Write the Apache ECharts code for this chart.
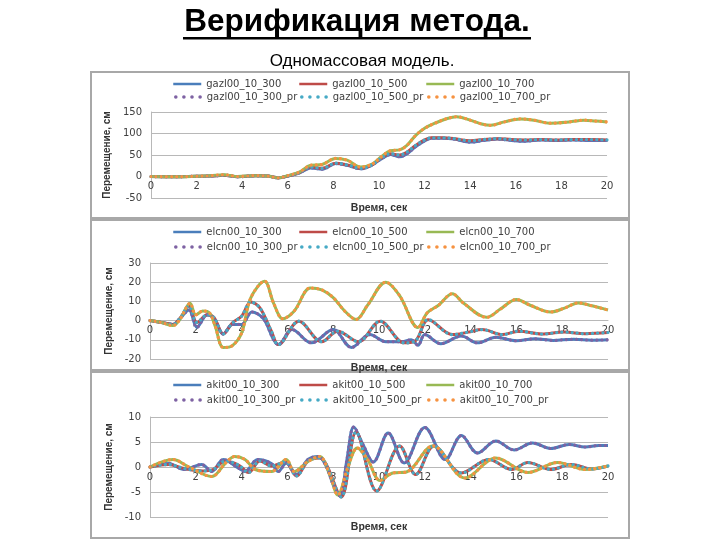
<!DOCTYPE html>
<html>
<head>
<meta charset="utf-8">
<script src="https://cdn.jsdelivr.net/npm/echarts@6/dist/echarts.min.js"></script>
<style>
  html, body { margin: 0; padding: 0; background: #fff; }
  #verifChart { width: 720px; height: 540px; }
</style>
</head>
<body>
<div id="verifChart"></div>
<script>
  var gazl300 = [[0,0],[1,-0.5],[2,0.5],[2.6,1],[3.2,3],[3.8,-0.5],[4.6,1.5],[5.1,1],[5.6,-3],[6.0,1],[6.5,8],[7.0,20],[7.5,17],[8.1,30],[8.6,26],[9.2,18],[9.7,27],[10.1,41],[10.5,51],[10.9,46],[11.2,52],[11.6,69],[12.0,83],[12.3,89],[12.8,89],[13.3,87],[14.0,80],[14.6,84],[15.2,87],[15.8,84],[16.4,82],[17.1,85],[17.8,84],[18.5,85],[19.3,84],[20,84]]
  var gazl500 = [[0,0],[1,-0.5],[2,0.5],[2.6,1],[3.2,3],[3.8,-0.5],[4.6,1.5],[5.1,1],[5.6,-3],[6.0,1],[6.5,9],[7.0,22],[7.5,19],[8.1,31],[8.6,27],[9.2,19],[9.7,27],[10.1,43],[10.5,53],[10.9,50],[11.2,56],[11.6,72],[12.0,85],[12.3,90],[12.8,90],[13.3,88],[14.0,83],[14.6,86],[15.2,88],[15.8,86],[16.4,85],[17.1,86],[17.8,85],[18.5,86],[19.3,86],[20,85]]
  var gazl700 = [[0,0],[1,-0.5],[2,0.5],[2.6,1.5],[3.2,4],[3.8,0],[4.6,2],[5.1,1],[5.6,-3],[6.0,2],[6.5,10],[7.0,26],[7.5,28],[8.1,42],[8.6,38],[9.2,22],[9.7,29],[10.1,46],[10.5,60],[10.9,62],[11.2,71],[11.6,95],[12.0,112],[12.5,125],[13.0,135],[13.4,139],[14.0,131],[14.5,122],[14.9,119],[15.5,127],[16.2,134],[16.8,131],[17.5,124],[18.2,126],[19.0,131],[19.5,129],[20,127]]

  var elcn300 = [[0,0],[0.5,-1],[1.0,-2],[1.3,1],[1.7,5.5],[2.05,-3.5],[2.5,3],[2.8,1],[3.2,-7],[3.6,-2],[4.0,-2],[4.45,4.5],[4.95,1],[5.4,-10],[5.6,-12.5],[6.2,-4.7],[7.05,-11.6],[8.0,-4.7],[8.8,-14],[9.6,-7.3],[10.3,-11],[11.0,-11],[11.4,-10],[11.7,-12.8],[12.0,-7.3],[12.7,-12],[13.6,-8],[14.3,-11.6],[15.1,-8.7],[16.0,-10.5],[16.8,-9.5],[17.6,-10.3],[18.5,-9.7],[19.3,-10.2],[20,-10]]
  var elcn500 = [[0,0],[0.5,-1],[1.0,-2],[1.3,1],[1.7,7.5],[2.05,-1],[2.5,3],[2.8,1.5],[3.2,-7],[3.6,-1.2],[4.0,2.3],[4.4,9.7],[4.8,6.6],[5.3,-5.5],[5.6,-12.5],[6.5,-0.3],[7.5,-11],[8.2,-5.5],[9.1,-11],[10.05,-0.3],[11.1,-11.6],[11.6,-10.4],[12.15,0.5],[13.2,-7.3],[13.9,-6],[14.5,-4.7],[15.4,-7.3],[16.1,-5.5],[17.1,-7],[18.1,-6],[19,-6.8],[20,-6.2]]
  var elcn700 = [[0,0],[0.5,-1],[1.0,-2.6],[1.3,0.5],[1.75,9],[2.0,3],[2.3,5],[2.6,4],[2.85,-3],[3.2,-14],[3.6,-13],[4.0,-6.5],[4.4,11.8],[5.0,20.5],[5.4,9],[5.8,1],[6.3,5],[7.0,17],[7.5,16],[8.0,12],[8.5,5],[9.0,0.6],[9.5,8],[10.3,20],[10.9,13],[11.7,-3.6],[12.1,4],[12.6,8],[13.2,14],[13.7,9],[14.7,1.7],[15.3,6],[16.0,11],[16.6,8],[17.5,4.5],[18.1,6.5],[18.7,9.2],[19.3,7.7],[20,5.5]]

  var akit300 = [[0,0],[0.8,0.7],[1.5,-0.5],[2.25,0.5],[2.7,-0.9],[3.2,1.5],[3.85,-0.2],[4.15,-0.9],[4.7,1.5],[5.3,0.7],[5.6,-0.9],[5.95,0.8],[6.4,-1.5],[6.9,1.5],[7.35,2.1],[7.7,0.1],[8.0,-3.5],[8.3,-5.8],[8.6,1.5],[8.9,8],[9.3,4.5],[9.75,1],[10.4,6.8],[11.1,0.8],[12.0,7.9],[12.9,1.5],[13.6,6.3],[14.3,2.8],[15.1,5.2],[15.9,3.4],[16.7,4.8],[17.5,3.7],[18.3,4.5],[19.0,4],[19.6,4.3],[20,4.3]]
  var akit500 = [[0,0],[0.8,0.5],[1.5,-0.3],[2.3,-0.8],[2.75,-0.5],[3.3,1.2],[3.9,0.3],[4.3,-1.1],[4.8,1.2],[5.3,0.2],[5.9,1.0],[6.4,-1.8],[6.9,1.2],[7.4,1.8],[7.7,0.5],[8.35,-6],[9.0,7],[9.9,-4.8],[10.9,4.2],[11.6,-1.5],[12.4,4.2],[13.6,-1.2],[14.8,1.5],[15.8,-0.5],[16.5,0.9],[17.5,-0.5],[18.4,0.5],[19.3,-0.4],[20,0.2]]
  var akit700 = [[0,0],[1.0,1.5],[1.7,0],[2.7,-1.9],[3.3,0.8],[3.7,2.1],[4.15,1.5],[4.6,-0.5],[5.3,-0.9],[5.95,1.5],[6.3,-0.9],[6.9,1.1],[7.4,2.1],[7.85,-1.5],[8.2,-5.6],[8.65,0.1],[9.05,3.8],[9.5,1.5],[10.05,-2.7],[10.6,-1.2],[11.2,-1],[12.35,4.2],[13.75,-2.2],[15.1,1.8],[16.5,-1.1],[17.8,0.9],[19.0,-0.5],[20,0.2]]

  var prefixes = ['gazl00_10_', 'elcn00_10_', 'akit00_10_']
  var runs = ['300', '500', '700']
  var panelData = [
    [gazl300, gazl500, gazl700],
    [elcn300, elcn500, elcn700],
    [akit300, akit500, akit700]
  ]
  var yMin = [-50, -20, -10]
  var yMax = [150, 30, 10]
  var yStep = [50, 10, 5]

  var lineColors = ['#4a7ebb', '#be4b48', '#98b954']
  var prColors = ['#7e62a3', '#46aac5', '#f69240']

  // раскладка панелей
  var grids = [
    { left: 151, width: 456, top: 112, height: 86, outerBoundsMode: 'none' },
    { left: 150, width: 458, top: 263, height: 96, outerBoundsMode: 'none' },
    { left: 150, width: 458, top: 417, height: 100, outerBoundsMode: 'none' }
  ]
  var legendRows = [[85, 98], [233, 248], [386, 401]]
  var legendCols = [172, 298, 425]
  var xNameGap = [26, 42, 55]
  var boxes = [[91, 72, 538, 146], [91, 220, 538, 150], [91, 372, 538, 166]]

  var xAxes = [], yAxes = [], series = [], legends = [], graphics = []
  var tickFont = { fontFamily: 'DejaVu Sans', fontSize: 10, color: '#404040' }
  var legendText = { fontFamily: 'DejaVu Sans', fontSize: 10, color: '#404040' }

  for (var p = 0; p < 3; p++) {
    // ось времени проходит через ноль (как в Excel): сдвигаем её вверх от низа сетки
    var zeroShift = grids[p].height * (0 - yMin[p]) / (yMax[p] - yMin[p])
    xAxes.push({
      type: 'value', gridIndex: p, min: 0, max: 20, interval: 2,
      offset: -zeroShift,
      name: 'Время, сек', nameLocation: 'middle', nameGap: xNameGap[p],
      nameTextStyle: { fontFamily: 'Liberation Sans', fontWeight: 'bold', fontSize: 10.5, color: '#333' },
      axisLine: { onZero: false, lineStyle: { color: '#b8b8b8', width: 1 } },
      axisTick: { show: false },
      splitLine: { show: false },
      axisLabel: Object.assign({ margin: 5 }, tickFont)
    })
    yAxes.push({
      type: 'value', gridIndex: p, min: yMin[p], max: yMax[p], interval: yStep[p],
      name: 'Перемещение, см', nameLocation: 'middle', nameGap: 36,
      nameTextStyle: { fontFamily: 'Liberation Sans Narrow, Liberation Sans', fontWeight: 'bold', fontSize: 10, color: '#333' },
      axisLine: { show: true, onZero: false, lineStyle: { color: '#b8b8b8', width: 1 } },
      axisTick: { show: false },
      splitLine: { lineStyle: { color: '#b8b8b8', width: 1 } },
      axisLabel: Object.assign({ margin: 9 }, tickFont)
    })
    for (var r = 0; r < 3; r++) {
      var name = prefixes[p] + runs[r]
      series.push({
        name: name, type: 'line', xAxisIndex: p, yAxisIndex: p,
        data: panelData[p][r], symbol: 'none', smooth: 0.35, z: 2,
        lineStyle: { color: lineColors[r], width: 3 },
        itemStyle: { color: lineColors[r] }
      })
      legends.push({
        left: legendCols[r], top: legendRows[p][0] - 6, data: [name],
        itemWidth: 28, itemHeight: 12, padding: 0,
        itemStyle: { opacity: 0 },
        lineStyle: { width: 2.5 },
        textStyle: legendText
      })
    }
    for (var r2 = 0; r2 < 3; r2++) {
      var prName = prefixes[p] + runs[r2] + '_pr'
      series.push({
        name: prName, type: 'line', xAxisIndex: p, yAxisIndex: p,
        data: panelData[p][r2], symbol: 'none', smooth: 0.35, z: 3,
        lineStyle: { color: prColors[r2], width: 3.2, type: [0.1, 5], cap: 'round' },
        itemStyle: { color: prColors[r2] }
      })
      legends.push({
        left: legendCols[r2], top: legendRows[p][1] - 6, data: [prName],
        itemWidth: 28, itemHeight: 12, padding: 0,
        itemStyle: { opacity: 0 },
        lineStyle: { width: 3.5, type: [0.1, 8], cap: 'round', dashOffset: -2 },
        textStyle: legendText
      })
    }
    graphics.push({
      type: 'rect', z: -1,
      shape: { x: boxes[p][0], y: boxes[p][1], width: boxes[p][2], height: boxes[p][3] },
      style: { fill: 'none', stroke: '#a8a8a8', lineWidth: 2 }
    })
  }

  graphics.push({
    type: 'text',
    style: { text: 'Верификация метода.', x: 357, y: 22, textAlign: 'center', textVerticalAlign: 'middle',
      font: 'bold 31.5px "Liberation Sans"', fill: '#000' }
  })
  graphics.push({
    type: 'rect', shape: { x: 183, y: 37, width: 348, height: 2.5 }, style: { fill: '#000' }
  })
  graphics.push({
    type: 'text',
    style: { text: 'Одномассовая модель.', x: 362, y: 61, textAlign: 'center', textVerticalAlign: 'middle',
      font: '17px "Liberation Sans"', fill: '#000' }
  })

  var verifChart = echarts.init(document.getElementById('verifChart'))
  verifChart.setOption({
    animation: false,
    backgroundColor: '#fff',
    grid: grids,
    xAxis: xAxes,
    yAxis: yAxes,
    legend: legends,
    graphic: graphics,
    series: series
  })
</script>
</body>
</html>
